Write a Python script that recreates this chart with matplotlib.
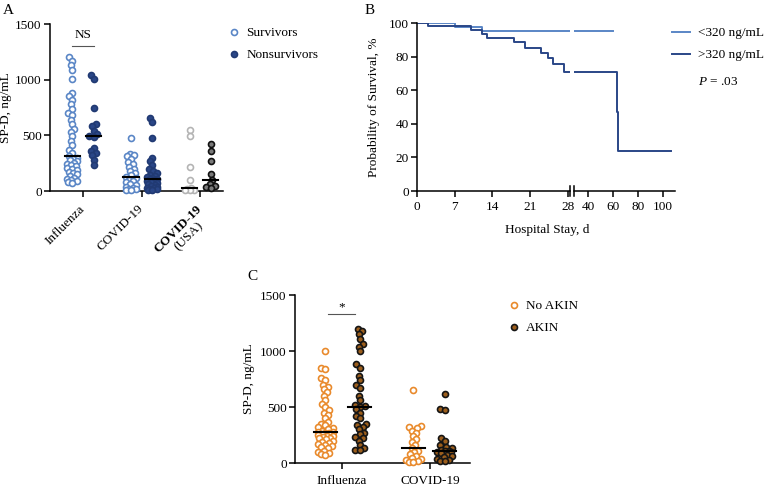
import numpy as np
import matplotlib.pyplot as plt
from matplotlib.lines import Line2D

plt.rcParams['font.family'] = ['Liberation Serif', 'DejaVu Serif']
plt.rcParams['font.size'] = 9.5
plt.rcParams['mathtext.fontset'] = 'custom'
plt.rcParams['mathtext.it'] = 'Liberation Serif:italic'
plt.rcParams['mathtext.rm'] = 'Liberation Serif'

# ---- panel A data (SP-D, ng/mL) ----
groups_a = ["Influenza", "COVID-19", "COVID-19"]
flu_surv = [1200, 1170, 1130, 1090, 1010, 880, 850, 820, 780, 740, 700, 680, 640, 600,
            560, 530, 490, 450, 410, 370, 340, 315, 300, 285, 275, 265, 255, 245, 235,
            225, 210, 200, 190, 175, 160, 150, 135, 120, 110, 100, 90, 80, 70]
flu_nonsurv = [1040, 1005, 750, 600, 580, 540, 510, 495, 485, 390, 360, 340, 320, 280, 230]
cov_surv = [475, 330, 320, 310, 290, 260, 240, 220, 200, 180, 160, 140, 125, 115, 100,
            90, 80, 60, 50, 40, 30, 20, 15, 10, 5]
cov_nonsurv = [655, 620, 475, 300, 265, 230, 200, 180, 160, 145, 135, 125, 115, 110, 105,
               100, 90, 80, 70, 60, 55, 45, 35, 30, 25, 20, 15, 10, 5]
usa_surv = [545, 495, 215, 95, 30, 15, 10, 5, 5]
usa_nonsurv = [425, 360, 270, 150, 95, 60, 45, 35, 25]

# ---- panel B data (Kaplan-Meier steps) ----
km_low_t = [0, 7, 12, 60]
km_low_s = [100, 97.8, 95.4, 95.4]
km_high_t = [0, 2, 10, 12, 13, 18, 20, 23, 24.4, 25.3, 27.3, 63, 64.3, 106]
km_high_s = [100, 98.2, 95.8, 93.3, 90.9, 88.5, 85.3, 82.3, 79.4, 75.5, 71, 47, 23.6, 23.6]

# ---- panel C data ----
groups_c = ["Influenza", "COVID-19"]
flu_noakin = [1000, 850, 835, 760, 740, 700, 680, 660, 630, 600, 560, 530, 500, 470, 450,
              430, 400, 370, 350, 335, 320, 310, 300, 290, 280, 275, 270, 265, 260, 250,
              245, 240, 230, 225, 220, 210, 200, 190, 180, 170, 160, 150, 140, 130, 110,
              100, 90, 80, 70]
flu_akin = [1200, 1180, 1150, 1110, 1060, 1040, 1000, 880, 850, 780, 740, 700, 670, 600,
            560, 520, 505, 500, 480, 450, 420, 400, 350, 340, 320, 300, 270, 260, 230, 220,
            200, 160, 130, 120, 115]
cov_noakin = [650, 330, 320, 310, 290, 270, 240, 210, 190, 160, 130, 110, 95, 80, 60, 45,
              35, 25, 15, 10, 5]
cov_akin = [620, 480, 470, 220, 200, 160, 145, 130, 120, 110, 105, 100, 95, 85, 75, 60, 50,
            40, 30, 20, 15]

LIGHT = '#5a86c6'
DARK = '#2a4687'
GREY = '#b4b4b4'
ORANGE = '#e98a2c'
BROWN = '#9c5e1c'

W, H = 768, 487
fig = plt.figure(figsize=(W / 100, H / 100), dpi=100)


def rect(l, t, r, b):
    return [l / W, 1 - b / H, (r - l) / W, (b - t) / H]


def style(ax):
    for s in ['top', 'right']:
        ax.spines[s].set_visible(False)
    for s in ['left', 'bottom']:
        ax.spines[s].set_linewidth(1.1)
    ax.tick_params(width=1.1, length=4.5, pad=1.5)


def swarm_x(ax, xc, vals, d=4.6, maxw=5.0):
    # simple beeswarm in pixel space, limited to +-maxw px around the centre
    tr = ax.transData
    pts = tr.transform(np.column_stack([np.full(len(vals), xc), vals]))
    cx = pts[0, 0]
    xs = np.empty(len(vals))
    placed = []
    for i in np.argsort(pts[:, 1]):
        y = pts[i, 1]
        near = [(px, py) for px, py in placed if abs(py - y) < d]
        cands = [cx]
        for px, py in near:
            dx = np.sqrt(d ** 2 - (py - y) ** 2)
            cands += [px - dx, px + dx]
        cands = sorted([c for c in cands if abs(c - cx) <= maxw + 1e-9], key=lambda c: abs(c - cx))
        best = None
        for c in cands:
            if all((c - px) ** 2 + (y - py) ** 2 >= d ** 2 - 1e-6 for px, py in near):
                best = c
                break
        if best is None:
            grid = np.linspace(cx - maxw, cx + maxw, 13)
            score = [min((g - px) ** 2 + (y - py) ** 2 for px, py in near) - 1e-3 * abs(g - cx)
                     for g in grid]
            best = grid[int(np.argmax(score))]
        placed.append((best, y))
        xs[i] = best
    return tr.inverted().transform(np.column_stack([xs, pts[:, 1]]))[:, 0]


def dots(ax, xc, vals, face, edge, mw=0.13, maxw=5.0):
    xs = swarm_x(ax, xc, vals, maxw=maxw)
    ax.plot(xs, vals, 'o', ms=4.3, mfc=face, mec=edge, mew=1.2, ls='', clip_on=False, zorder=3)
    m = np.median(vals)
    ax.plot([xc - mw, xc + mw], [m, m], color='black', lw=1.5, zorder=4, clip_on=False)


# ================= Panel A =================
axA = fig.add_axes(rect(50, 24, 223, 191))
style(axA)
axA.set_xlim(-0.564, 2.39)
axA.set_ylim(0, 1500)
axA.set_yticks([0, 500, 1000, 1500])
axA.set_xticks([0, 1, 2])
axA.set_xticklabels(groups_a)
for lab in axA.get_xticklabels():
    lab.set_rotation(45)
    lab.set_ha('right')
    lab.set_va('center')
    lab.set_rotation_mode('anchor')
axA.get_xticklabels()[2].set_fontweight('bold')
axA.tick_params(axis='x', pad=7)
axA.text(2.03, -0.195, '(USA)', rotation=45, rotation_mode='anchor', ha='right', va='center',
         transform=axA.get_xaxis_transform())
axA.set_ylabel('SP-D, ng/mL')
axA.yaxis.set_label_coords(-0.22, 0.5)

dots(axA, -0.18, flu_surv, 'white', LIGHT)
dots(axA, 0.18, flu_nonsurv, DARK, '#213a73')
dots(axA, 0.82, cov_surv, 'white', LIGHT)
dots(axA, 1.18, cov_nonsurv, DARK, '#213a73')
dots(axA, 1.82, usa_surv, 'white', GREY)
dots(axA, 2.18, usa_nonsurv, '#7a7a7a', '#111111')
axA.plot([-0.18, 0.18], [1305, 1305], color='#555555', lw=0.8)
axA.text(0, 1400, 'NS', ha='center', va='center')

legA = [Line2D([], [], marker='o', ls='', ms=4.3, mfc='white', mec=LIGHT, mew=1.2),
        Line2D([], [], marker='o', ls='', ms=4.3, mfc=DARK, mec='#213a73', mew=1.2)]
fig.legend(legA, ['Survivors', 'Nonsurvivors'], loc='upper left',
           bbox_to_anchor=(229 / W, 1 - 27 / H), frameon=False, borderpad=0,
           borderaxespad=0, handlelength=0.8, handletextpad=0.5, labelspacing=0.75,
           fontsize=9.5)
fig.text(3 / W, 1 - 10 / H, 'A', fontsize=11, va='center')

# ================= Panel B =================
axB1 = fig.add_axes(rect(417, 23, 570, 191))
axB2 = fig.add_axes(rect(574, 23, 675, 191))
for ax in (axB1, axB2):
    style(ax)
    ax.set_ylim(0, 100)
    ax.step(km_low_t, km_low_s, where='post', color=LIGHT, lw=1.4)
    ax.step(km_high_t, km_high_s, where='post', color=DARK, lw=1.4)
axB1.set_xlim(0, 28.4)
axB1.set_xticks([0, 7, 14, 21, 28])
axB1.set_yticks([0, 20, 40, 60, 80, 100])
axB2.set_xlim(28.8, 109.6)
axB2.set_xticks([40, 60, 80, 100])
axB2.spines['left'].set_visible(False)
axB2.tick_params(axis='y', left=False, labelleft=False)
for ax in (axB1, axB2):
    ax.tick_params(axis='x', pad=3)
axB1.plot([1, 1], [-0.03, 0.03], transform=axB1.transAxes, color='black', lw=1.1, clip_on=False)
axB2.plot([0, 0], [-0.03, 0.03], transform=axB2.transAxes, color='black', lw=1.1, clip_on=False)
axB1.set_ylabel('Probability of Survival, %')
axB1.yaxis.set_label_coords(-0.24, 0.5)
fig.text(547 / W, 1 - 230 / H, 'Hospital Stay, d', ha='center', va='center')

legB = [Line2D([], [], color=LIGHT, lw=1.4), Line2D([], [], color=DARK, lw=1.4)]
fig.legend(legB, ['<320 ng/mL', '>320 ng/mL'], loc='upper left',
           bbox_to_anchor=(672 / W, 1 - 27 / H), frameon=False, borderpad=0,
           borderaxespad=0, handlelength=1.4, handletextpad=0.6, labelspacing=0.75,
           fontsize=9.5)
fig.text(698 / W, 1 - 82 / H, '$P$ = .03', va='center')
fig.text(365 / W, 1 - 10 / H, 'B', fontsize=11, va='center')

# ================= Panel C =================
axC = fig.add_axes(rect(295, 295, 470, 463))
style(axC)
axC.set_xlim(-0.534, 1.455)
axC.set_ylim(0, 1500)
axC.set_yticks([0, 500, 1000, 1500])
axC.set_xticks([0, 1])
axC.set_xticklabels(groups_c)
axC.tick_params(axis='x', pad=4)
axC.set_ylabel('SP-D, ng/mL')
axC.yaxis.set_label_coords(-0.23, 0.5)

dots(axC, -0.19, flu_noakin, 'white', ORANGE, maxw=7.5)
dots(axC, 0.2, flu_akin, BROWN, '#151515', maxw=7.5)
dots(axC, 0.81, cov_noakin, 'white', ORANGE, maxw=7.5)
dots(axC, 1.17, cov_akin, BROWN, '#151515', maxw=7.5)
axC.plot([-0.16, 0.15], [1330, 1330], color='#555555', lw=0.8)
axC.text(0, 1390, '*', ha='center', va='center')

legC = [Line2D([], [], marker='o', ls='', ms=4.3, mfc='white', mec=ORANGE, mew=1.2),
        Line2D([], [], marker='o', ls='', ms=4.3, mfc=BROWN, mec='#151515', mew=1.2)]
fig.legend(legC, ['No AKIN', 'AKIN'], loc='upper left',
           bbox_to_anchor=(509 / W, 1 - 300 / H), frameon=False, borderpad=0,
           borderaxespad=0, handlelength=0.8, handletextpad=0.5, labelspacing=0.75,
           fontsize=9.5)
fig.text(247 / W, 1 - 277 / H, 'C', fontsize=11, va='center')

fig.savefig('out.png', dpi=100)
